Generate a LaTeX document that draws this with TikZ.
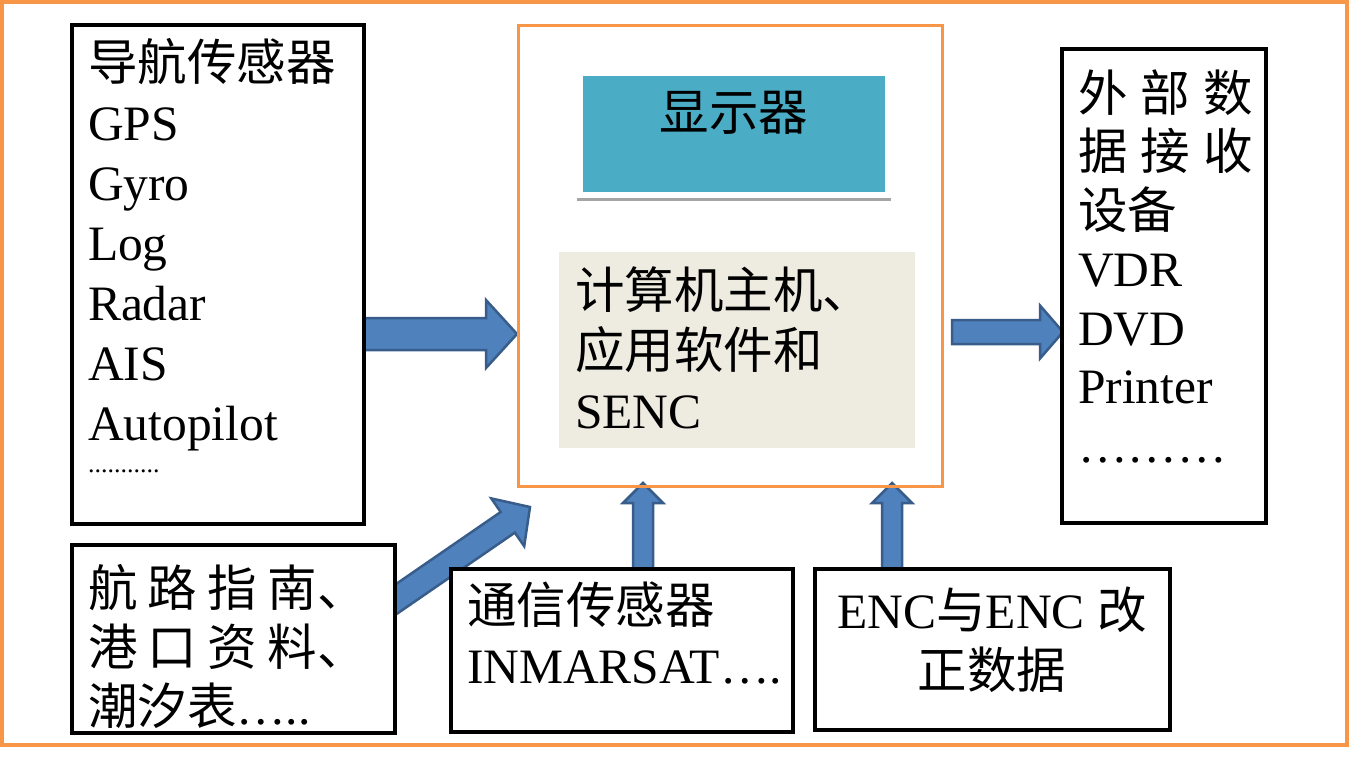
\documentclass[tikz,border=0pt]{standalone}
\usepackage{fontspec}
\setmainfont{Liberation Serif}
\newfontfamily\cjk{Noto Sans CJK SC}
\usetikzlibrary{calc}
\newcommand\zh[1]{{\cjk #1}}
% #1 tail, #2 tip, #3 shaft half width, #4 head half width, #5 head length
\newcommand\blockarrow[5]{%
  \path ($(#2)!#5!(#1)$) coordinate (hb);
  \draw[blockarr] ($(#1)!#3!90:(#2)$) -- ($(hb)!#3!90:(#2)$) -- ($(hb)!#4!90:(#2)$) -- (#2)
    -- ($(hb)!#4!-90:(#2)$) -- ($(hb)!#3!-90:(#2)$) -- ($(#1)!#3!-90:(#2)$) -- cycle;
}
\definecolor{orangeline}{HTML}{F79646}
\definecolor{arrowfill}{HTML}{4F81BD}
\definecolor{arrowedge}{HTML}{385D8A}
\definecolor{screen}{HTML}{4BACC6}
\definecolor{panel}{HTML}{EEECE1}
\definecolor{shelf}{HTML}{A5A5A5}
\begin{document}
\begin{tikzpicture}[x=1pt,y=-1pt,
  blockarr/.style={fill=arrowfill, draw=arrowedge, line width=2.5pt, line join=miter},
  frame/.style={draw=black, line width=4pt, fill=white, inner sep=0pt, outer sep=0pt, anchor=north west},
  txt/.style={inner sep=0pt, outer sep=0pt, align=left, anchor=base west, font=\fontsize{49.5}{60}\selectfont}]
\fill[white] (0,0) rectangle (1350,764);
\useasboundingbox (0,0) rectangle (1350,764);
\draw[orangeline, line width=4pt] (2,2) rectangle (1346.5,744.5);

% arrow end points
\coordinate (a1t) at (360,334);  \coordinate (a1h) at (517,334);
\coordinate (a2t) at (952,332);  \coordinate (a2h) at (1063,332);
\coordinate (a3t) at (643,570);  \coordinate (a3h) at (643,483);
\coordinate (a4t) at (892,570);  \coordinate (a4h) at (892,483);
\coordinate (a5t) at (375.7,613.2); \coordinate (a5h) at (530,507);

\blockarrow{a1t}{a1h}{16pt}{34pt}{31pt}
\blockarrow{a2t}{a2h}{12pt}{26.5pt}{23pt}
\blockarrow{a3t}{a3h}{10pt}{20pt}{20pt}
\blockarrow{a4t}{a4h}{10pt}{20pt}{20pt}
\blockarrow{a5t}{a5h}{12.5pt}{29pt}{27pt}

% central unit
\node[draw=orangeline, line width=3pt, inner sep=0pt, outer sep=0pt, anchor=north west,
      minimum width=424pt, minimum height=461pt] (host) at (518,25) {};
\node[fill=screen, inner sep=0pt, outer sep=0pt, anchor=north west,
      minimum width=302pt, minimum height=116pt] (disp) at (583,76) {};
\node[inner sep=0pt, font=\fontsize{49.5}{60}\selectfont] (disptxt) at (734,113) {\zh{显示器}};
\draw[shelf, line width=3pt] (577,199) -- (891,199);
\node[fill=panel, inner sep=0pt, outer sep=0pt, anchor=north west,
      minimum width=356pt, minimum height=196pt] (core) at (559,252) {};
\node[txt] (coretxt) at (575,428) {\zh{计算机主机、}\\\zh{应用软件和}\\SENC};

% navigation sensors
\node[frame, minimum width=292pt, minimum height=499pt] (nav) at (72,25) {};
\node[txt] (navtxt) at (88,472) {\zh{导航传感器}\\GPS\\Gyro\\Log\\Radar\\AIS\\Autopilot\\[-28pt]{\fontsize{26}{30}\selectfont ...........}};

% external receivers
\node[frame, minimum width=204pt, minimum height=474pt] (ext) at (1062,49) {};
\node[txt, font=\fontsize{49.5}{58.5}\selectfont] (exttxt) at (1078,462) {\zh{外\hspace{13.5pt}部\hspace{13.5pt}数}\\\zh{据\hspace{13.5pt}接\hspace{13.5pt}收}\\\zh{设备}\\VDR\\DVD\\Printer\\………};

% publications
\node[frame, minimum width=323pt, minimum height=188pt] (pubs) at (72,545) {};
\node[txt, font=\fontsize{49.5}{59}\selectfont] (pubstxt) at (88,724) {\zh{航\hspace{10.5pt}路\hspace{10.5pt}指\hspace{10.5pt}南、}\\\zh{港\hspace{10.5pt}口\hspace{10.5pt}资\hspace{10.5pt}料、}\\\zh{潮汐表}…..};

% communication sensors
\node[frame, minimum width=342pt, minimum height=163pt] (comm) at (451,569) {};
\node[txt] (commtxt) at (467,683) {\zh{通信传感器}\\INMARSAT….};

% ENC
\node[frame, minimum width=355pt, minimum height=161pt] (enc) at (815,569) {};
\node[txt, align=center, anchor=base] (enctxt) at (992,688) {ENC\zh{与}ENC \zh{改}\\\zh{正数据}};
\end{tikzpicture}
\end{document}
